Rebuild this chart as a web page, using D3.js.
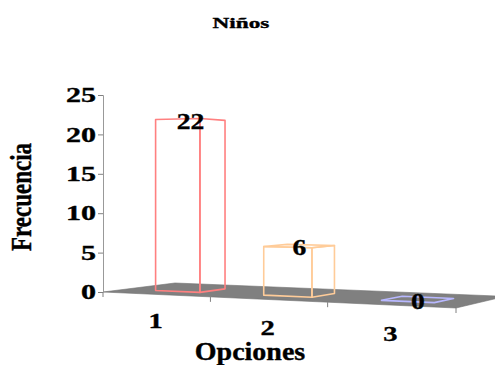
<!DOCTYPE html>
<html>
<head>
<meta charset="utf-8">
<script src="https://cdn.jsdelivr.net/npm/d3@7"></script>
<style>
  html, body { margin: 0; padding: 0; background: #fff; }
  svg { display: block; }
  text { font-family: "Liberation Serif", "Times New Roman", serif; font-weight: bold; fill: #000;
         stroke: #000; stroke-width: 0.35px; }
</style>
</head>
<body>
<svg id="chart" width="495" height="365"></svg>
<script>
// ---- data ----
const chartTitle = "Niños";
const categories = ["1", "2", "3"];
const values = [22, 6, 0];
const barColors = ["#ff8080", "#ffcc99", "#b8b8ff"];
const yTicks = [0, 5, 10, 15, 20, 25];
const xTitle = "Opciones";
const yTitle = "Frecuencia";

const svg = d3.select("#chart");

// ---- perspective view (vertical picture plane) ----
const view = {
  horizon: 180,
  u0: 103, ux: 296, uz: 87.3,   // screen-x numerator terms
  wx: -0.125, wz: 0.0874        // perspective divisor terms
};
// value -> vertical offset from the horizon at unit divisor
const yScale = d3.scaleLinear().domain([0, 25]).range([112, 112 - 197]);
// categories across the floor (0..1)
const xBand = d3.scaleBand().domain(categories).range([0, 1])
  .paddingInner(0.58).paddingOuter(0.29);
// depth across the floor (0 = front, 1 = back)
const zScale = d3.scaleLinear().domain([0, 1]).range([0, 1]);
const barDepth = [zScale(0.3), zScale(0.67)];

function project(x, z, val) {
  const w = 1 + view.wx * x + view.wz * z;
  return [(view.u0 + view.ux * x + view.uz * z) / w, view.horizon + yScale(val) / w];
}

function stretchedText(parent, str, x, y, size, sx, anchor, sy) {
  return parent.append("text")
    .attr("transform", `translate(${x},${y}) scale(${sx},${sy || 1})`)
    .attr("text-anchor", anchor || "middle")
    .attr("dominant-baseline", "central")
    .style("font-size", size + "px")
    .text(str);
}

// ---- floor ----
const floorPts = [[0, 0], [1, 0], [1, 1], [0, 1]].map(([x, z]) => project(x, zScale(z), 0));
svg.append("polygon")
  .attr("points", floorPts.map(p => p.join(",")).join(" "))
  .attr("fill", "#808080")
  .attr("stroke", "#707070")
  .attr("stroke-width", 0.6);

// ---- category axis ticks along the front edge ----
const step = xBand.step();
const tickXs = d3.range(categories.length + 1).map(i => i * step);
svg.append("g").selectAll("line").data(tickXs).join("line")
  .each(function (x) {
    const [u, v] = project(x, 0, 0);
    d3.select(this).attr("x1", u).attr("y1", v).attr("x2", u).attr("y2", v + 5);
  })
  .attr("stroke", "#808080").attr("stroke-width", 1);

// ---- value axis ----
const y0 = project(0, 0, 0);
const yAxisScale = d3.scaleLinear().domain(yScale.domain())
  .range(yScale.domain().map(d => project(0, 0, d)[1]));
const yAxisG = svg.append("g").attr("transform", `translate(${y0[0]},0)`)
  .call(d3.axisLeft(yAxisScale).tickValues(yTicks).tickSize(5).tickPadding(7));
yAxisG.select(".domain").attr("stroke", "#999").attr("stroke-width", 1);
yAxisG.selectAll(".tick line").attr("stroke", "#808080");
yAxisG.selectAll(".tick text").remove();
yAxisG.selectAll(".tick").each(function (d) {
  stretchedText(d3.select(this), d, -7, 0, 20, 1.5, "end");
});

// ---- bars (visible faces only) ----
function boxFaces(x0, x1, z0, z1, h) {
  return [
    [[x0, z0, 0], [x1, z0, 0], [x1, z0, h], [x0, z0, h]],   // front
    [[x1, z1, 0], [x0, z1, 0], [x0, z1, h], [x1, z1, h]],   // back
    [[x1, z0, 0], [x1, z1, 0], [x1, z1, h], [x1, z0, h]],   // right
    [[x0, z1, 0], [x0, z0, 0], [x0, z0, h], [x0, z1, h]],   // left
    [[x0, z0, h], [x1, z0, h], [x1, z1, h], [x0, z1, h]],   // top
    [[x0, z1, 0], [x1, z1, 0], [x1, z0, 0], [x0, z0, 0]]    // bottom
  ];
}
function signedArea(pts) {
  let s = 0;
  for (let i = 0; i < pts.length; i++) {
    const a = pts[i], b = pts[(i + 1) % pts.length];
    s += a[0] * b[1] - b[0] * a[1];
  }
  return s / 2;
}

const barsG = svg.append("g");
categories.forEach((c, i) => {
  const x0 = xBand(c), x1 = x0 + xBand.bandwidth();
  const faces = boxFaces(x0, x1, barDepth[0], barDepth[1], values[i])
    .map(f => f.map(([x, z, v]) => project(x, z, v)))
    .filter(p => signedArea(p) < -0.5);
  barsG.selectAll(null).data(faces).join("polygon")
    .attr("points", p => p.map(q => q.join(",")).join(" "))
    .attr("fill", "none")
    .attr("stroke", barColors[i])
    .attr("stroke-width", 1.6)
    .attr("stroke-linejoin", "round");
});

// ---- value labels on bar tops ----
const zMid = (barDepth[0] + barDepth[1]) / 2;
categories.forEach((c, i) => {
  const [u, v] = project(xBand(c) + xBand.bandwidth() / 2, zMid, values[i]);
  stretchedText(svg, values[i], u, v + 1, 23, 1.2, "middle");
});

// ---- category labels ----
categories.forEach(c => {
  const [u, v] = project(xBand(c) + xBand.bandwidth() / 2, 0, -3.3);
  stretchedText(svg, c, u, v, 22, 1.3, "middle");
});

// ---- titles ----
stretchedText(svg, chartTitle, 241, 23, 15, 1.55, "middle");
stretchedText(svg, xTitle, 250, 352, 25, 1.12, "middle");
svg.append("text")
  .attr("transform", "translate(22,197) rotate(-90) scale(1,1.25)")
  .attr("text-anchor", "middle")
  .attr("dominant-baseline", "central")
  .style("font-size", "23px")
  .text(yTitle);
</script>
</body>
</html>
